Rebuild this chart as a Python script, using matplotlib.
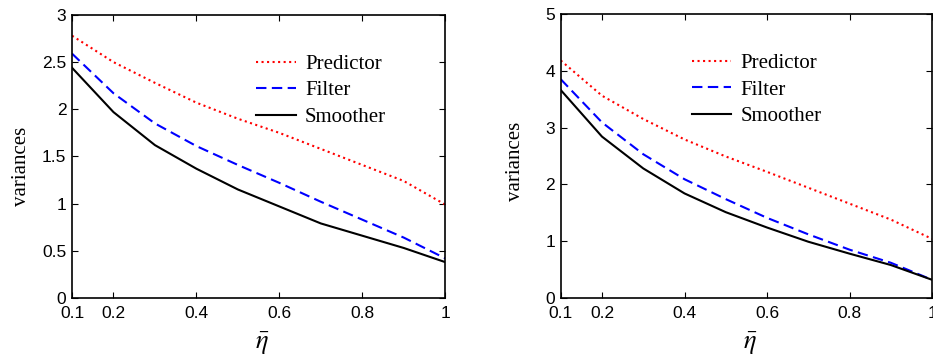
import numpy as np
import matplotlib.pyplot as plt

plt.rcParams['font.family'] = 'Liberation Sans'
plt.rcParams['mathtext.fontset'] = 'stix'

eta = [0.1, 0.2, 0.3, 0.4, 0.5, 0.6, 0.7, 0.8, 0.9, 1.0]

# left panel
pred_a = [2.78, 2.50, 2.28, 2.07, 1.90, 1.75, 1.58, 1.41, 1.24, 0.99]
filt_a = [2.59, 2.17, 1.85, 1.61, 1.41, 1.22, 1.02, 0.83, 0.64, 0.42]
smth_a = [2.44, 1.97, 1.62, 1.37, 1.15, 0.97, 0.79, 0.66, 0.53, 0.38]

# right panel
pred_b = [4.18, 3.56, 3.15, 2.79, 2.49, 2.22, 1.94, 1.66, 1.38, 1.04]
filt_b = [3.85, 3.09, 2.53, 2.09, 1.74, 1.41, 1.12, 0.85, 0.62, 0.32]
smth_b = [3.66, 2.84, 2.28, 1.84, 1.51, 1.24, 0.99, 0.78, 0.58, 0.32]

xticks = [0.1, 0.2, 0.4, 0.6, 0.8, 1]
xticklabels = ['0.1', '0.2', '0.4', '0.6', '0.8', '1']

fig = plt.figure(figsize=(9.33, 3.56), dpi=100)
ax1 = fig.add_axes([0.0772, 0.163, 0.400, 0.795])
ax2 = fig.add_axes([0.601, 0.163, 0.398, 0.798])

def draw(ax, pred, filt, smth, ymax, ystep, lx, ylx, yly):
    ax.plot(eta, pred, color='red', linestyle=':', lw=1.5, label='Predictor')
    ax.plot(eta, filt, color='blue', linestyle=(0, (5, 2.6)), lw=1.5, label='Filter')
    ax.plot(eta, smth, color='black', linestyle='-', lw=1.5, label='Smoother')
    ax.set_xlim(0.1, 1)
    ax.set_ylim(0, ymax)
    ax.set_xticks(xticks)
    ax.set_xticklabels(xticklabels)
    yt = np.arange(0, ymax + 0.01, ystep)
    ax.set_yticks(yt)
    ax.set_yticklabels(['%g' % v for v in yt])
    ax.tick_params(direction='in', top=True, right=True, length=4, width=0.8,
                   labelsize=12.5)
    ax.tick_params(axis='x', pad=6)
    ax.tick_params(axis='y', pad=4)
    for s in ax.spines.values():
        s.set_linewidth(1.2)
    ax.set_ylabel('variances', family='Liberation Serif', fontsize=15)
    ax.yaxis.set_label_coords(ylx, yly)
    ax.set_xlabel(r'$\bar{\eta}$', fontsize=19)
    ax.xaxis.set_label_coords(0.51, -0.115)
    ax.legend(loc='upper left', bbox_to_anchor=(lx, 0.89), frameon=False,
              prop={'family': 'Liberation Serif', 'size': 15},
              handlelength=1.9, handletextpad=0.45, labelspacing=0.33,
              borderaxespad=0)

draw(ax1, pred_a, filt_a, smth_a, 3, 0.5, 0.471, -0.11, 0.465)
draw(ax2, pred_b, filt_b, smth_b, 5, 1, 0.33, -0.097, 0.48)

fig.savefig('out.png', dpi=100)
